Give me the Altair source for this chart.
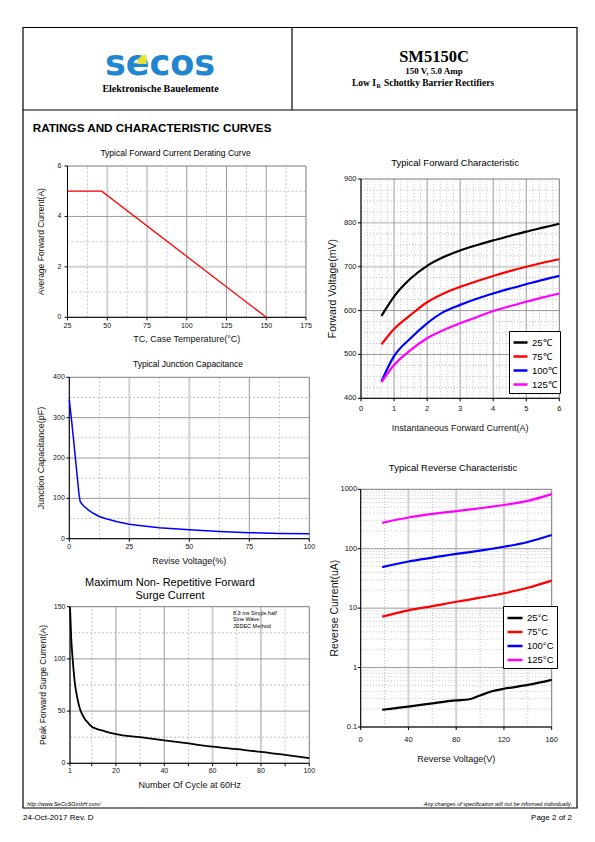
import altair as alt
import pandas as pd

W, H = 579, 820
SANS = "Liberation Sans"
NARROW = "Liberation Sans Narrow, Liberation Sans"
SERIF = "Liberation Serif"

# ---------------- data ----------------
derate_temp = [25, 46.5, 150]
derate_current = [5, 5, 0]

cap_voltage = [0, 1, 2, 3, 4, 4.5, 5, 6, 8, 10, 12.5, 15, 20, 25, 30, 37.5, 50, 62.5, 75, 87.5, 100]
cap_pf = [345, 290, 232, 172, 112, 93, 88, 81, 71, 63, 55, 50, 42, 36, 32, 27, 22, 18, 15, 13, 12]

surge_cycles = [1, 1.5, 2, 3, 4, 5, 6, 7, 8, 10, 12, 15, 20, 30, 40, 50, 60, 70, 80, 90, 100]
surge_amp = [150, 120, 103, 77, 63, 53, 47, 43, 40, 35, 33, 31, 28, 25, 22, 19, 16, 13.5, 11, 8, 5]

fwd_series = ["25℃", "75℃", "100℃", "125℃"]
fwd_current = [0.62, 1, 1.5, 2, 2.5, 3, 3.5, 4, 4.5, 5, 5.5, 6]
fwd_25 = [588, 632, 673, 702, 722, 737, 749, 760, 770, 780, 789, 798]
fwd_75 = [523, 558, 590, 619, 639, 654, 667, 679, 690, 700, 709, 717]
fwd_100 = [439, 496, 537, 571, 597, 613, 627, 639, 650, 660, 670, 679]
fwd_125 = [437, 476, 510, 537, 556, 571, 585, 599, 610, 620, 630, 639]

rev_series = ["25°C", "75°C", "100°C", "125°C"]
rev_voltage = [18, 40, 60, 80, 90, 100, 110, 120, 140, 160]
rev_25 = [0.195, 0.22, 0.25, 0.28, 0.29, 0.34, 0.40, 0.44, 0.51, 0.62]
rev_75 = [7.2, 9.2, 10.8, 12.8, 13.8, 15, 16.3, 17.8, 22, 29]
rev_100 = [49, 61, 71, 82, 87, 93, 100, 108, 130, 170]
rev_125 = [272, 335, 385, 430, 455, 480, 510, 545, 640, 830]

series_colors = ["#000000", "#ff0000", "#0000ff", "#ff00ff"]

# tick values / labels / grid values
p1_xticks = [25, 50, 75, 100, 125, 150, 175]
p1_yticks = [0, 2, 4, 6]
p1_gx_major = [100, 125, 150]
p1_gx_light = [50, 75]
p1_gx_minor = [37.5, 62.5, 87.5, 112.5, 137.5, 162.5]
p1_gy_major = [4]
p1_gy_light = [2]
p1_gy_minor = [1, 3, 5]

p2_xticks = [0, 25, 50, 75, 100]
p2_yticks = [0, 100, 200, 300, 400]
p2_gx_major = [75]
p2_gx_light = [25, 50]
p2_gx_minor = [12.5, 37.5, 62.5, 87.5]
p2_gy_major = [100, 200, 300]
p2_gy_light = []
p2_gy_minor = [50, 150, 250, 350]

p3_xticks = [1, 20, 40, 60, 80, 100]
p3_xminor_ticks = [10, 30, 50, 70, 90]
p3_yticks = [0, 50, 100, 150]
p3_gx_major = [20, 40, 80]
p3_gx_light = [60]
p3_gx_minor = [10, 30, 50, 70, 90]
p3_gy_major = [50, 100]
p3_gy_light = []
p3_gy_minor = [25, 75, 125]

p4_xticks = [0, 1, 2, 3, 4, 5, 6]
p4_yticks = [400, 500, 600, 700, 800, 900]
p4_gx_major = [1, 2, 3, 4, 5]
p4_gx_light = []
p4_gx_minor = [round(i * 0.2, 1) for i in range(1, 30) if i % 5 != 0]
p4_gy_major = [500, 600]
p4_gy_light = [700, 800]
p4_gy_minor = [400 + 25 * i for i in range(1, 20) if i % 4 != 0]

p5_xticks = [0, 40, 80, 120, 160]
p5_yticks = [0.1, 1, 10, 100, 1000]
p5_ylabels = ["0.1", "1", "10", "100", "1000"]
p5_gx_major = []
p5_gx_light = [40, 80, 120]
p5_gx_minor = [20, 60, 100, 140]
p5_gy_major = [1, 10, 100]
p5_gy_light = []
p5_gy_minor = [round(m * d, 1) for d in [0.1, 1, 10, 100] for m in range(2, 10)]

ONE = pd.DataFrame({"k": [0]})


def labels_of(vals):
    return ["%g" % v for v in vals]


def XD(v, s):
    return alt.XDatum(v, scale=s, axis=None)


def YD(v, s):
    return alt.YDatum(v, scale=s, axis=None)


def grid_layers(xs, ys, xdom, ydom, gx, gy, color, width, dash=None):
    out = []
    kw = dict(color=color, strokeWidth=width)
    if dash:
        kw["strokeDash"] = dash
    if gx:
        out.append(alt.Chart(pd.DataFrame({"v": gx})).mark_rule(**kw).encode(
            x=alt.X("v:Q", scale=xs, axis=None), y=YD(ydom[0], ys), y2=alt.Y2Datum(ydom[1])))
    if gy:
        out.append(alt.Chart(pd.DataFrame({"v": gy})).mark_rule(**kw).encode(
            y=alt.Y("v:Q", scale=ys, axis=None), x=XD(xdom[0], xs), x2=alt.X2Datum(xdom[1])))
    return out


def text(txt, x, y, size, font=SANS, weight="normal", align="center", style="normal",
         color="#000000", baseline="middle"):
    return alt.Chart(ONE).mark_text(text=txt, font=font, fontSize=size, fontWeight=weight,
                                    align=align, baseline=baseline, fontStyle=style,
                                    color=color).encode(x=alt.value(x), y=alt.value(y))


def panel(p, line_fn):
    xdom, ydom = p["xdom"], p["ydom"]
    xs = alt.Scale(domain=xdom, range=p["xr"], nice=False, zero=False)
    if p.get("ylog"):
        ys = alt.Scale(type="log", domain=ydom, range=p["yr"], nice=False)
        ymid = (ydom[0] * ydom[1]) ** 0.5
    else:
        ys = alt.Scale(domain=ydom, range=p["yr"], nice=False, zero=False)
        ymid = (ydom[0] + ydom[1]) / 2
    xmid = (xdom[0] + xdom[1]) / 2
    layers = []
    layers += grid_layers(xs, ys, xdom, ydom, p["gxm"], p["gym"], "#c2c2c2", 1, p.get("dash", [2, 2]))
    layers += grid_layers(xs, ys, xdom, ydom, p["gxL"], p["gyL"], "#d2d2d2", 2)
    layers += grid_layers(xs, ys, xdom, ydom, p["gxM"], p["gyM"], "#9a9a9a", 1)
    # plot frame (top / right edges grey)
    layers.append(alt.Chart(ONE).mark_rect(filled=False, stroke="#7a7a7a", strokeWidth=1).encode(
        x=XD(xdom[0], xs), x2=alt.X2Datum(xdom[1]), y=YD(ydom[0], ys), y2=alt.Y2Datum(ydom[1])))
    # axis lines
    layers.append(alt.Chart(ONE).mark_rule(color="#000000", strokeWidth=1).encode(
        x=XD(xdom[0], xs), x2=alt.X2Datum(xdom[1]), y=YD(ydom[0], ys)))
    layers.append(alt.Chart(ONE).mark_rule(color="#000000", strokeWidth=1).encode(
        x=XD(xdom[0], xs), y=YD(ydom[0], ys), y2=alt.Y2Datum(ydom[1])))
    # x ticks + labels
    xt = pd.DataFrame({"v": p["xticks"], "lab": p.get("xlabels", labels_of(p["xticks"]))})
    xtick_vals = p["xticks"] + p.get("xminor", [])
    layers.append(alt.Chart(pd.DataFrame({"v": xtick_vals})).mark_rule(
        color="#000000", strokeWidth=1, y2Offset=3).encode(
        x=alt.X("v:Q", scale=xs, axis=None), y=YD(ydom[0], ys), y2=alt.Y2Datum(ydom[0])))
    layers.append(alt.Chart(xt).mark_text(font=SANS, fontSize=p["lsize"], color="#111111",
                                          baseline="middle", yOffset=p["xlab_off"]).encode(
        x=alt.X("v:Q", scale=xs, axis=None), y=YD(ydom[0], ys), text="lab:N"))
    # y ticks + labels
    yt = pd.DataFrame({"v": p["yticks"], "lab": p.get("ylabels", labels_of(p["yticks"]))})
    layers.append(alt.Chart(yt).mark_rule(color="#000000", strokeWidth=1, x2Offset=-3).encode(
        y=alt.Y("v:Q", scale=ys, axis=None), x=XD(xdom[0], xs), x2=alt.X2Datum(xdom[0])))
    layers.append(alt.Chart(yt).mark_text(font=SANS, fontSize=p["lsize"], color="#111111",
                                          align="right", baseline="middle",
                                          xOffset=p["ylab_off"]).encode(
        y=alt.Y("v:Q", scale=ys, axis=None), x=XD(xdom[0], xs), text="lab:N"))
    # axis titles
    layers.append(alt.Chart(ONE).mark_text(text=p["xtitle"], font=p.get("xtfont", SANS),
                                           fontSize=p["xtsize"], color="#111111", baseline="middle",
                                           yOffset=p["xt_off"]).encode(
        x=XD(xmid, xs), y=YD(ydom[0], ys)))
    layers.append(alt.Chart(ONE).mark_text(text=p["ytitle"], font=SANS, fontSize=p["ytsize"],
                                           color="#111111", baseline="middle", angle=270,
                                           xOffset=p["yt_off"]).encode(
        x=XD(xdom[0], xs), y=YD(ymid, ys)))
    layers.append(line_fn(xs, ys))
    return alt.layer(*layers)


P1 = dict(xdom=[25, 175], xr=[59.5, 298], ydom=[0, 6], yr=[309.3, 158],
          gxM=p1_gx_major, gxL=p1_gx_light, gxm=p1_gx_minor,
          gyM=p1_gy_major, gyL=p1_gy_light, gym=p1_gy_minor,
          xticks=p1_xticks, yticks=p1_yticks, lsize=7, xlab_off=8.5, ylab_off=-6,
          xtitle="TC, Case Temperature(°C)", xtsize=9, xt_off=22,
          ytitle="Average Forward Current(A)", ytsize=8.5, yt_off=-27)

P2 = dict(xdom=[0, 100], xr=[61.3, 301.3], ydom=[0, 400], yr=[530.7, 369.3],
          gxM=p2_gx_major, gxL=p2_gx_light, gxm=p2_gx_minor,
          gyM=p2_gy_major, gyL=p2_gy_light, gym=p2_gy_minor,
          xticks=p2_xticks, yticks=p2_yticks, lsize=7, xlab_off=8.5, ylab_off=-4.5,
          xtitle="Revise Voltage(%)", xtsize=9, xt_off=22,
          ytitle="Junction Capacitance(pF)", ytsize=9, yt_off=-28.5)

P3 = dict(xdom=[1, 100], xr=[62, 301.3], ydom=[0, 150], yr=[755.3, 598.7],
          gxM=p3_gx_major, gxL=p3_gx_light, gxm=p3_gx_minor,
          gyM=p3_gy_major, gyL=p3_gy_light, gym=p3_gy_minor,
          xticks=p3_xticks, xminor=p3_xminor_ticks, yticks=p3_yticks, lsize=7, xlab_off=8,
          ylab_off=-4.5,
          xtitle="Number Of Cycle at 60Hz", xtsize=9, xt_off=22,
          ytitle="Peak Forward Surge Current(A)", ytsize=8.5, yt_off=-27)

P4 = dict(xdom=[0, 6], xr=[353, 551.3], ydom=[400, 900], yr=[390.3, 171],
          gxM=p4_gx_major, gxL=p4_gx_light, gxm=p4_gx_minor,
          gyM=p4_gy_major, gyL=p4_gy_light, gym=p4_gy_minor, dash=[1, 2],
          xticks=p4_xticks, yticks=p4_yticks, lsize=7.5, xlab_off=11, ylab_off=-4.5,
          xtitle="Instantaneous Forward Current(A)", xtfont=NARROW, xtsize=9, xt_off=30,
          ytitle="Forward Voltage(mV)", ytsize=10.5, yt_off=-28.5)

P5 = dict(xdom=[0, 160], xr=[352.7, 543.7], ydom=[0.1, 1000], yr=[719, 481.3], ylog=True,
          gxM=p5_gx_major, gxL=p5_gx_light, gxm=p5_gx_minor,
          gyM=p5_gy_major, gyL=p5_gy_light, gym=p5_gy_minor, dash=[1, 2],
          xticks=p5_xticks, yticks=p5_yticks, ylabels=p5_ylabels, lsize=7.5, xlab_off=13,
          ylab_off=-3.5,
          xtitle="Reverse Voltage(V)", xtfont=NARROW, xtsize=9, xt_off=32,
          ytitle="Reverse Current(uA)", ytsize=10.5, yt_off=-26)


def p1_line(xs, ys):
    df = pd.DataFrame({"x": derate_temp, "y": derate_current})
    return alt.Chart(df).mark_line(color="#ff0000", strokeWidth=1.3).encode(
        x=alt.X("x:Q", scale=xs, axis=None), y=alt.Y("y:Q", scale=ys, axis=None))


def p2_line(xs, ys):
    df = pd.DataFrame({"x": cap_voltage, "y": cap_pf})
    return alt.Chart(df).mark_line(color="#0000ff", strokeWidth=1.5).encode(
        x=alt.X("x:Q", scale=xs, axis=None), y=alt.Y("y:Q", scale=ys, axis=None))


def p3_line(xs, ys):
    df = pd.DataFrame({"x": surge_cycles, "y": surge_amp})
    return alt.Chart(df).mark_line(color="#000000", strokeWidth=1.8, interpolate="monotone").encode(
        x=alt.X("x:Q", scale=xs, axis=None), y=alt.Y("y:Q", scale=ys, axis=None))


def legend(x, y, size):
    return alt.Legend(orient="none", legendX=x, legendY=y, title=None,
                      strokeColor="#000000", fillColor="#ffffff", padding=3,
                      symbolType="stroke", symbolSize=size, symbolStrokeWidth=2.5,
                      labelFont=NARROW, labelFontSize=9.5, labelColor="#000000",
                      labelOffset=3, rowPadding=0)


def p4_line(xs, ys):
    rows = []
    for name, vals in zip(fwd_series, [fwd_25, fwd_75, fwd_100, fwd_125]):
        for xv, yv in zip(fwd_current, vals):
            rows.append({"x": xv, "y": yv, "s": name})
    return alt.Chart(pd.DataFrame(rows)).mark_line(strokeWidth=2.2, interpolate="monotone").encode(
        x=alt.X("x:Q", scale=xs, axis=None), y=alt.Y("y:Q", scale=ys, axis=None),
        color=alt.Color("s:N", scale=alt.Scale(domain=fwd_series, range=series_colors),
                        legend=legend(501, 323, 196)))


def p5_line(xs, ys):
    rows = []
    for name, vals in zip(rev_series, [rev_25, rev_75, rev_100, rev_125]):
        for xv, yv in zip(rev_voltage, vals):
            rows.append({"x": xv, "y": yv, "s": name})
    return alt.Chart(pd.DataFrame(rows)).mark_line(strokeWidth=2.2, interpolate="monotone").encode(
        x=alt.X("x:Q", scale=xs, axis=None), y=alt.Y("y:Q", scale=ys, axis=None),
        color=alt.Color("s:N", scale=alt.Scale(domain=rev_series, range=series_colors),
                        legend=legend(495, 598, 225)))


panels = [panel(P1, p1_line), panel(P2, p2_line), panel(P3, p3_line),
          panel(P4, p4_line), panel(P5, p5_line)]

# ---------- page furniture ----------
page = [
    alt.Chart(ONE).mark_rect(filled=False, stroke="#000000", strokeWidth=1.2).encode(
        x=alt.value(15), x2=alt.value(569), y=alt.value(19.5), y2=alt.value(800)),
    alt.Chart(ONE).mark_rule(color="#000000", strokeWidth=1.2).encode(
        x=alt.value(15), x2=alt.value(569), y=alt.value(102)),
    alt.Chart(ONE).mark_rule(color="#000000", strokeWidth=1.2).encode(
        x=alt.value(284), y=alt.value(19.5), y2=alt.value(102)),
    text("secos", 152, 67, 35, font="DejaVu Sans", weight="bold", color="#1f86d2",
         baseline="alphabetic"),
    alt.Chart(ONE).mark_arc(color="#e6e22e", radius=9.5, theta=4.712, theta2=6.283).encode(
        x=alt.value(138.5), y=alt.value(56)),
    text("Elektronische Bauelemente", 152.5, 80.5, 10, font=SERIF, weight="bold"),
    text("SM5150C", 426, 49, 16.5, font=SERIF, weight="bold"),
    text("150 V, 5.0 Amp", 426, 62.5, 9, font=SERIF, weight="bold"),
    text("Low I", 368, 75, 9.5, font=SERIF, weight="bold", align="right"),
    text("R", 368.5, 77.5, 6, font=SERIF, weight="bold", align="left"),
    text("Schottky Barrier Rectifiers", 376, 75, 9.5, font=SERIF, weight="bold", align="left"),
    text("RATINGS AND CHARACTERISTIC CURVES", 24.7, 120, 11.7, weight="bold", align="left"),
    text("Typical Forward Current Derating Curve", 167.5, 145, 8.5),
    text("Typical Junction Capacitance", 180, 356, 8.5),
    text("Maximum Non- Repetitive Forward", 162, 574.7, 11),
    text("Surge Current", 162, 588, 11),
    text("8.3 ms Single half", 225, 604.7, 5.5, align="left"),
    text("Sine Wave", 225, 611.3, 5.5, align="left"),
    text("JEDEC Method", 225, 618, 5.5, align="left"),
    text("Typical Forward Characteristic", 447, 155.3, 9.5),
    text("Typical Reverse Characteristic", 445, 460.3, 9.5),
    text("http://www.SeCoSGmbH.com/", 19, 796, 5.5, align="left", style="italic"),
    text("Any changes of specification will not be informed individually.", 564, 796, 5.5,
         align="right", style="italic"),
    text("24-Oct-2017 Rev. D", 15, 810, 8, align="left"),
    text("Page  2  of  2", 564, 810, 8, align="right"),
]

chart = alt.layer(*page, *panels).resolve_scale(
    x="independent", y="independent", color="independent"
).properties(
    width=W, height=H,
    autosize=alt.AutoSizeParams(type="none"),
    padding=0, background="white",
).configure_view(stroke=None)

chart.save("out.html", embed_options={"renderer": "svg", "actions": False})
